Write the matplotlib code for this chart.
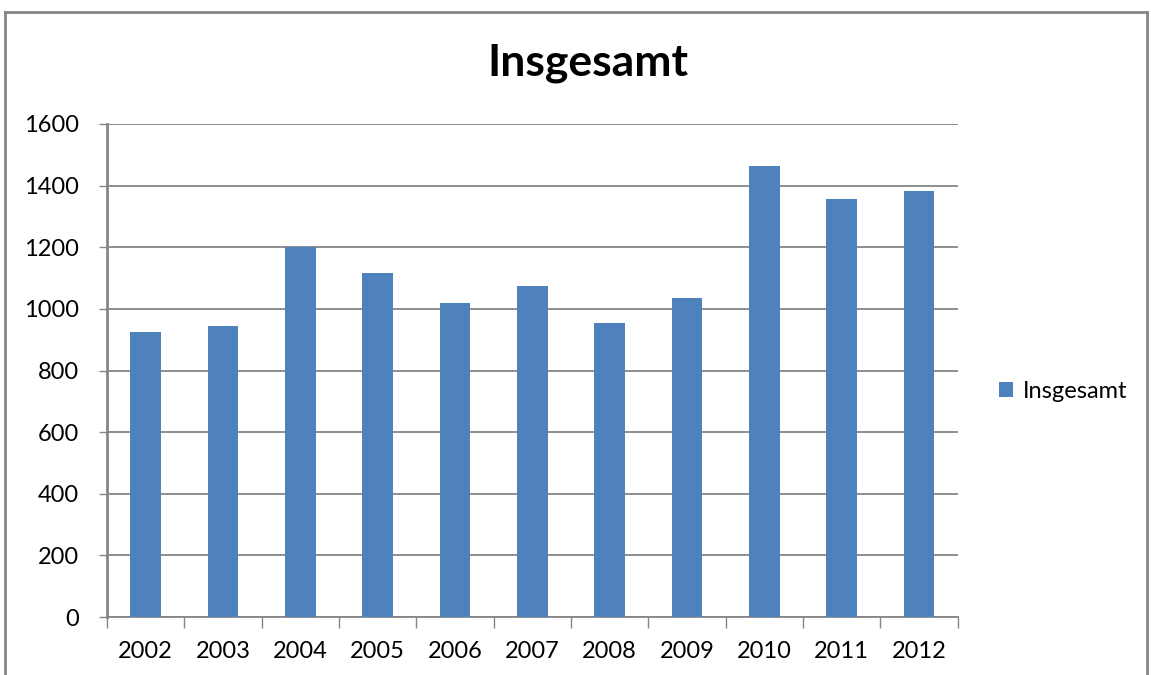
import matplotlib
matplotlib.use("Agg")
import matplotlib.pyplot as plt
from matplotlib.lines import Line2D
import numpy as np

years = ["2002", "2003", "2004", "2005", "2006", "2007",
         "2008", "2009", "2010", "2011", "2012"]
insgesamt = [926, 945, 1200, 1117, 1020, 1075, 955, 1036, 1465, 1358, 1384]
y_ticks = [0, 200, 400, 600, 800, 1000, 1200, 1400, 1600]

bar_color = "#4F81BD"
grid_color = "#868686"
font = ["Lato", "DejaVu Sans"]

fig = plt.figure(figsize=(11.51, 6.75), dpi=100)
ax = fig.add_axes([0.093, 0.0859, 0.739, 0.7304])

x = np.arange(len(years))
ax.bar(x, insgesamt, width=0.4, color=bar_color, zorder=3, label="Insgesamt")

ax.set_xlim(-0.5, len(years) - 0.5)
ax.set_ylim(0, 1600)
ax.set_yticks(y_ticks)
ax.set_yticklabels([str(v) for v in y_ticks], fontsize=17, family=font)
ax.yaxis.grid(True, color=grid_color, linewidth=1.3, zorder=0)

# category labels centred, tick marks on the category boundaries
ax.set_xticks(x)
ax.set_xticklabels(years, fontsize=17, family=font)
ax.tick_params(axis="x", length=0, pad=17)
ax.set_xticks(np.arange(-0.5, len(years)), minor=True)
ax.tick_params(axis="x", which="minor", length=8, color=grid_color, width=1)
ax.tick_params(axis="y", length=6, color=grid_color, width=1, pad=14)

for side in ("top", "right"):
    ax.spines[side].set_visible(False)
ax.spines["left"].set_color(grid_color)
ax.spines["left"].set_linewidth(2)
ax.spines["bottom"].set_color(grid_color)
ax.spines["bottom"].set_linewidth(1.3)

fig.text(0.511, 0.906, "Insgesamt", ha="center", va="center",
         fontsize=32, fontweight="bold", family=font)

ax.legend(loc="center left", bbox_to_anchor=(1.024, 0.458), frameon=False,
          prop={"family": font, "size": 17}, handlelength=0.6,
          handleheight=0.6, handletextpad=0.4)

# outer chart border
left, right, top = 5 / 1151, 1147 / 1151, 1 - 12 / 675
for xs, ys in (([left, left], [0, top]), ([left, right], [top, top]),
               ([right, right], [top, 0])):
    fig.add_artist(Line2D(xs, ys, color=grid_color, linewidth=2,
                          transform=fig.transFigure))

fig.savefig("out.png", dpi=100)
